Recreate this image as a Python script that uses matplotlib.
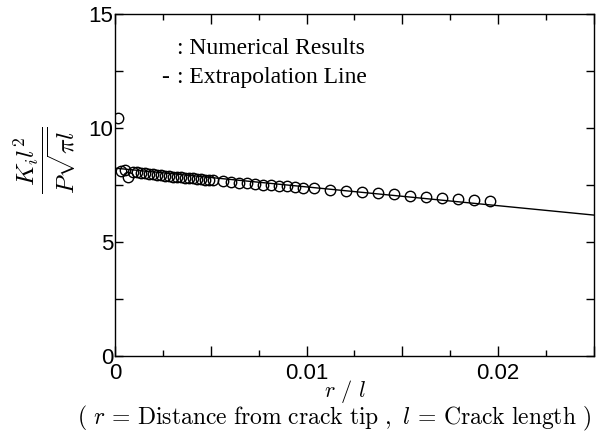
import numpy as np
import matplotlib
matplotlib.use("Agg")
import matplotlib.pyplot as plt
from matplotlib.ticker import MultipleLocator, FuncFormatter

plt.rcParams['mathtext.fontset'] = 'cm'
plt.rcParams['font.family'] = ['Liberation Sans', 'DejaVu Sans']

# numerical results (r/l, normalised SIF)
r_num = [0.00014, 0.00031, 0.00052, 0.00069, 0.00096,
         0.00115, 0.00136, 0.00157, 0.00178, 0.00199, 0.00220, 0.00241,
         0.00262, 0.00283, 0.00304, 0.00325, 0.00346, 0.00367, 0.00388,
         0.00409, 0.00430, 0.00451, 0.00472, 0.00493, 0.00514,
         0.00562, 0.00604, 0.00645, 0.00687, 0.00729, 0.00771, 0.00812,
         0.00854, 0.00896, 0.00938, 0.00979,
         0.01039, 0.01122, 0.01206, 0.01290, 0.01375, 0.01456, 0.01540,
         0.01623, 0.01707, 0.01790, 0.01874, 0.01957]
k_num = [10.45, 8.12, 8.16, 7.85, 8.08,
         8.05, 8.03, 8.01, 7.99, 7.97, 7.95, 7.93,
         7.91, 7.89, 7.87, 7.85, 7.84, 7.82, 7.80,
         7.79, 7.77, 7.75, 7.74, 7.72, 7.70,
         7.66, 7.63, 7.60, 7.57, 7.54, 7.51, 7.49,
         7.46, 7.44, 7.41, 7.38,
         7.35, 7.30, 7.25, 7.20, 7.16, 7.10, 7.02,
         6.97, 6.93, 6.89, 6.84, 6.81]

# extrapolation line
r_line = [0.0, 0.025]
k_line = [8.24, 6.18]

fig = plt.figure(figsize=(6.13, 4.42), dpi=100)
ax = fig.add_axes([0.1876, 0.1946, 0.9690 - 0.1876, 0.9683 - 0.1946])

ax.plot(r_line, k_line, color='black', lw=1.0)
ax.plot(r_num, k_num, 'o', mfc='none', mec='black', ms=7.5, mew=1.0)

ax.set_xlim(0, 0.025)
ax.set_ylim(0, 15)
ax.xaxis.set_major_locator(MultipleLocator(0.005))
ax.xaxis.set_minor_locator(MultipleLocator(0.0025))
ax.yaxis.set_major_locator(MultipleLocator(5))
ax.yaxis.set_minor_locator(MultipleLocator(2.5))

def xfmt(v, pos):
    if abs(round(v / 0.01) * 0.01 - v) < 1e-9:
        return '0' if abs(v) < 1e-12 else '%g' % v
    return ''

ax.xaxis.set_major_formatter(FuncFormatter(xfmt))
ax.yaxis.set_major_formatter(FuncFormatter(lambda v, p: '%d' % v))

ax.tick_params(which='both', direction='in', top=True, right=True, width=1.0,
               labelsize=16, colors='black')
ax.tick_params(axis='x', which='major', length=7, pad=5)
ax.tick_params(axis='x', which='minor', length=4)
ax.tick_params(axis='y', which='both', length=6, pad=1)
for s in ax.spines.values():
    s.set_linewidth(1.0)

ax.text(0.00325, 13.5, ': Numerical Results', family='Liberation Serif',
        fontsize=17, va='center', ha='left')
ax.text(0.0024, 12.2, '-', family='Liberation Serif',
        fontsize=17, va='center', ha='left')
ax.text(0.00325, 12.2, ': Extrapolation Line', family='Liberation Serif',
        fontsize=17, va='center', ha='left')

fig.text(0.073, 0.638, r'$\dfrac{K_i l^2}{P\sqrt{\pi l}}$', rotation=90,
         fontsize=18, ha='center', va='center')
fig.text(0.563, 0.114, r'$r\ /\ l$', fontsize=16, ha='center', va='center')
fig.text(0.545, 0.053,
         r'$(\ r\,=\,\mathrm{Distance\ from\ crack\ tip}\ ,\ l\,=\,\mathrm{Crack\ length}\ )$',
         fontsize=17, ha='center', va='center')

fig.savefig('out.png', dpi=100)
